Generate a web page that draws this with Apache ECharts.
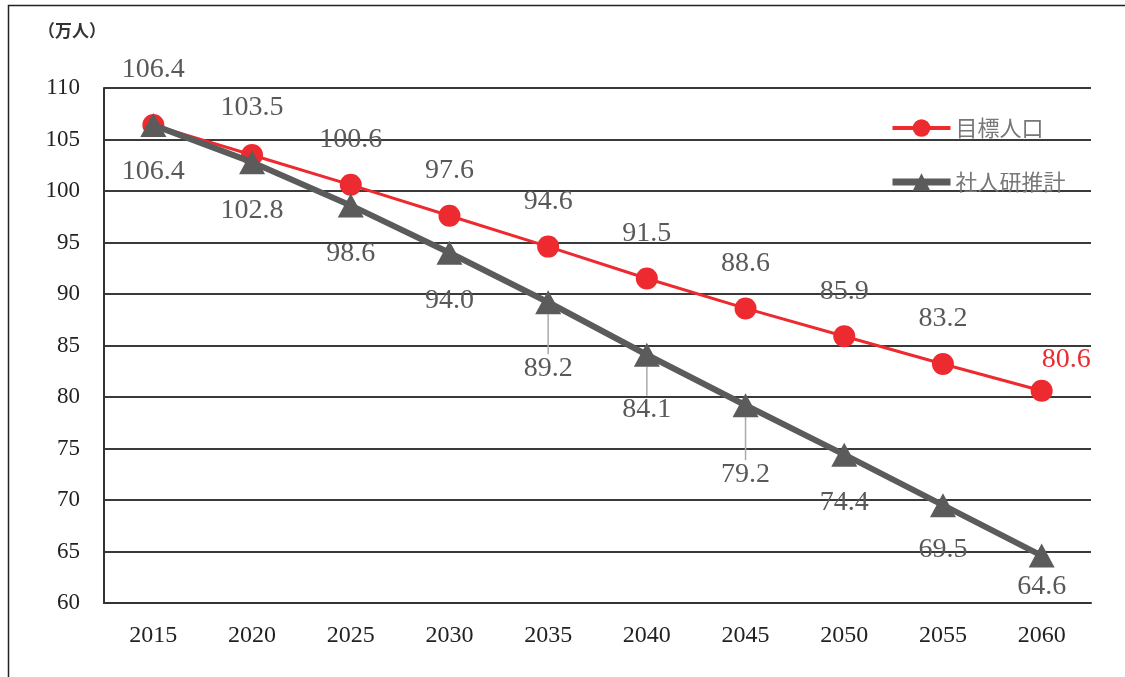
<!DOCTYPE html>
<html>
<head>
<meta charset="utf-8">
<script src="https://cdn.jsdelivr.net/npm/echarts@6/dist/echarts.min.js"></script>
<style>html,body{margin:0;padding:0;background:#fff}#c{width:1125px;height:677px}</style>
</head>
<body>
<div id="c"></div>
<script>
const years = ['2015','2020','2025','2030','2035','2040','2045','2050','2055','2060'];
const targetPop = [106.4, 103.5, 100.6, 97.6, 94.6, 91.5, 88.6, 85.9, 83.2, 80.6];
const ipssPop = [106.4, 102.8, 98.6, 94.0, 89.2, 84.1, 79.2, 74.4, 69.5, 64.6];
const seriesNames = ['目標人口', '社人研推計'];
const yTicks = {min: 60, max: 110, interval: 5};
const unitLabel = '（万人）';

// label style adjustments (pixels), not data
const redDy = [-10, -2, 0, 0, 0, 0, 0, 0, 0, 0];
const grayDy = [1, 2, 2, 2, 20, 9, 23, 2, -2, -15];
const leaderIdx = [4, 5, 6];

const RED = '#EC2A30', GRAY = '#5B5B5B', LBL = '#595959';
const serif = '"Liberation Serif", "DejaVu Serif", serif';
const sans = '"Noto Sans CJK JP", "Noto Sans", sans-serif';

const chart = echarts.init(document.getElementById('c'));
const redData = targetPop.map((v, i) => {
  const last = i === targetPop.length - 1;
  return {
    value: v,
    label: last ? {position: 'right', distance: 0, offset: [-11, -31], color: RED} : {offset: [0, redDy[i]]}
  };
});
const grayData = ipssPop.map((v, i) => ({
  value: v,
  labelLine: {show: leaderIdx.indexOf(i) >= 0}
}));

chart.setOption({
  animation: false,
  backgroundColor: '#fff',
  graphic: [
    {type: 'rect', shape: {x: 8.5, y: 5.5, width: 1300, height: 900}, style: {fill: 'none', stroke: '#222', lineWidth: 1.5}, silent: true},
    {type: 'text', left: 38, top: 22, style: {text: unitLabel, font: '600 17px ' + sans, fill: '#333'}}
  ],
  grid: {left: 104, right: 34, top: 88, bottom: 74, containLabel: false},
  legend: {
    data: [
      {name: seriesNames[0], lineStyle: {width: 4, color: RED}, itemStyle: {color: RED}},
      {name: seriesNames[1], lineStyle: {width: 7, color: GRAY}, itemStyle: {color: GRAY}}
    ],
    orient: 'vertical',
    left: 884,
    top: 112,
    itemWidth: 58,
    itemHeight: 22,
    itemGap: 32,
    textStyle: {fontFamily: sans, fontSize: 22, color: '#777', padding: [0, 0, 0, 0]}
  },
  xAxis: {
    type: 'category',
    data: years,
    boundaryGap: true,
    axisLine: {show: true, lineStyle: {color: '#333', width: 2}},
    axisTick: {show: false},
    axisLabel: {fontFamily: serif, fontSize: 24, color: '#222', margin: 21}
  },
  yAxis: {
    type: 'value',
    min: yTicks.min,
    max: yTicks.max,
    interval: yTicks.interval,
    axisLine: {show: true, lineStyle: {color: '#333', width: 2}},
    axisTick: {show: false},
    axisLabel: {fontFamily: serif, fontSize: 23, color: '#222', margin: 24},
    splitLine: {show: true, lineStyle: {color: '#3a3a3a', width: 2}}
  },
  series: [
    {
      name: seriesNames[0],
      type: 'line',
      data: redData,
      z: 2,
      symbol: 'circle',
      symbolSize: 22,
      lineStyle: {color: RED, width: 3},
      itemStyle: {color: RED},
      label: {show: true, position: 'top', distance: 20, fontFamily: serif, fontSize: 28, color: LBL, formatter: p => p.value.toFixed(1)}
    },
    {
      name: seriesNames[1],
      type: 'line',
      data: grayData,
      z: 3,
      symbol: 'triangle',
      symbolSize: [26, 24],
      lineStyle: {color: GRAY, width: 6},
      itemStyle: {color: GRAY},
      label: {show: true, position: 'bottom', distance: 20, fontFamily: serif, fontSize: 28, color: LBL, formatter: p => p.value.toFixed(1)},
      labelLayout: p => ({dy: grayDy[p.dataIndex]}),
      labelLine: {show: false, lineStyle: {color: '#aaa', width: 1.5}}
    }
  ]
});
</script>
</body>
</html>
